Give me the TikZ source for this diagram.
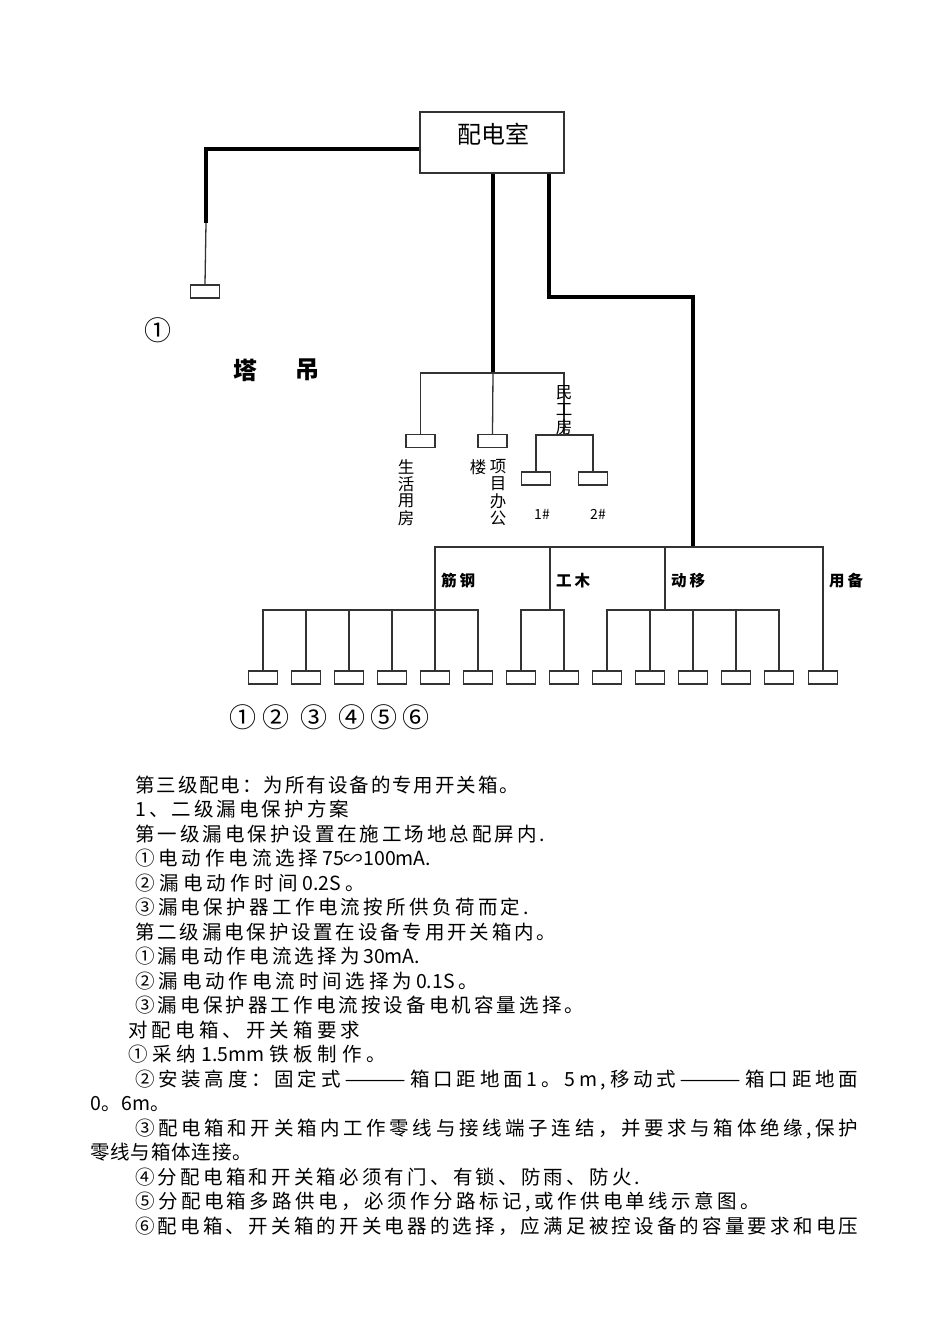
\documentclass[tikz,border=0pt]{standalone}
\usepackage{fontspec}
\setmainfont{Noto Sans CJK SC}
\def\sprA#1{#1\sprB}
\def\sprB#1{\ifx\relax#1\else\hskip 0pt plus 1fil\relax#1\expandafter\sprB\fi}
\newcommand\spreadline[2]{\makebox[#1][s]{\sprA#2\relax}}
\newcommand\longdash{\scalebox{1.9}[1]{——}}
\begin{document}
\begin{tikzpicture}[x=1pt,y=-1pt,
  thk/.style={line width=3.6pt,black},
  thn/.style={line width=1.3pt,black!80},
  sbox/.style={draw=black!80,line width=1.4pt,minimum width=29pt,minimum height=13pt,inner sep=0pt},
  lbl/.style={font=\fontsize{16.5}{16.5}\selectfont,inner sep=0pt},
  blbl/.style={font=\bfseries\fontsize{15.5}{15.5}\selectfont,inner sep=0pt,anchor=west},
  circ/.style={font=\fontsize{27}{27}\selectfont,inner sep=0pt},
  txt/.style={anchor=base west,font=\fontsize{19.5}{20}\selectfont,inner sep=0pt}]
\useasboundingbox[fill=white] (0,0) rectangle (950,1344);

% main distribution room
\node[draw=black!80,line width=1.3pt,minimum width=144pt,minimum height=61pt,inner sep=0pt] (room) at (492,142.5) {};
\node[font=\fontsize{24}{24}\selectfont,inner sep=0pt] (roomlbl) at (493,134) {配电室};

% tower crane branch
\coordinate (ta) at (206,223);
\node[sbox] (tc) at (205,291.5) {};
\draw[thk] ([yshift=-6.5pt]room.west) -| (ta);
\draw[thn] (ta) -- (tc.north);
\node[circ] (c0) at (158,330) {①};
\node[font=\bfseries\fontsize{24}{24}\selectfont,inner sep=0pt] (ta1) at (245,370) {塔};
\node[font=\bfseries\fontsize{24}{24}\selectfont,inner sep=0pt] (ta2) at (307,370) {吊};

% middle branch
\coordinate (m1) at (493,373);
\coordinate (mg) at (564,435);
\node[sbox] (b1) at (420.5,441) {};
\node[sbox] (b2) at (492.5,441) {};
\node[sbox] (b3) at (536,478.5) {};
\node[sbox] (b4) at (593,478.5) {};
\draw[thk] (room.south -| m1) -- (m1);
\draw[thn] (b1.north) |- (m1) -| (mg);
\draw[thn] (m1) -- (b2.north);
\draw[thn] (b3.north) |- (mg) -| (b4.north);
\node[lbl] (mg1) at (564,393) {民};
\node[lbl] (mg2) at (564,410) {工};
\node[lbl] (mg3) at (564,427) {房};
\node[lbl] (s1) at (406,467) {生};
\node[lbl] (s2) at (406,484) {活};
\node[lbl] (s3) at (406,501) {用};
\node[lbl] (s4) at (406,518) {房};
\node[lbl] (lou) at (478,467) {楼};
\node[lbl] (x1) at (498,467) {项};
\node[lbl] (x2) at (498,484) {目};
\node[lbl] (x3) at (498,501) {办};
\node[lbl] (x4) at (498,518) {公};
\node[font=\fontsize{14}{14}\selectfont,inner sep=0pt] (n1) at (542,514) {1\#};
\node[font=\fontsize{14}{14}\selectfont,inner sep=0pt] (n2) at (598,514) {2\#};

% right branch
\coordinate (r1) at (549,297);
\coordinate (r2) at (693,547);
\coordinate (g1) at (435,610);
\coordinate (g2) at (550,610);
\coordinate (g3) at (665,610);
\draw[thk] (room.south -| r1) -- (r1) -| (r2);
\foreach \i/\x in {1/263,2/306,3/349,4/392,5/435,6/478,7/521,8/564,9/607,10/650,11/693,12/736,13/779,14/823}
  \node[sbox] (bx\i) at (\x,677.5) {};
\draw[thn] (g1) |- (r2) -| (bx14.north);
\draw[thn] (g2) -- (g2 |- r2);
\draw[thn] (g3) -- (g3 |- r2);
\draw[thn] (bx1.north) |- (g1) -| (bx6.north);
\foreach \i in {2,3,4,5} \draw[thn] (bx\i.north) -- (bx\i.north |- g1);
\draw[thn] (bx7.north) |- (g2) -| (bx8.north);
\draw[thn] (bx9.north) |- (g3) -| (bx13.north);
\foreach \i in {10,11,12} \draw[thn] (bx\i.north) -- (bx\i.north |- g3);
\node[blbl] (gl1) at (441,581) {筋\hspace{3pt}钢};
\node[blbl] (gl2) at (556,581) {工\hspace{3pt}木};
\node[blbl] (gl3) at (671,581) {动\hspace{3pt}移};
\node[blbl] (gl4) at (829,581) {用\hspace{3pt}备};

\node[circ] (c1) at (243,717) {①};
\node[circ] (c2) at (276,717) {②};
\node[circ] (c3) at (314,717) {③};
\node[circ] (c4) at (352,717) {④};
\node[circ] (c5) at (384,717) {⑤};
\node[circ] (c6) at (416,717) {⑥};

% text block
\node[txt] (t0) at (135,792) {\spreadline{384pt}{第三级配电：为所有设备的专用开关箱。}};
\node[txt] (t1) at (135,816.5) {\spreadline{214pt}{1、二级漏电保护方案}};
\node[txt] (t2) at (135,841) {\spreadline{410pt}{第一级漏电保护设置在施工场地总配屏内.}};
\node[txt] (t3) at (135,865.5) {\spreadline{296pt}{①电动作电流选择{75∽100mA.}}};
\node[txt] (t4) at (135,890) {\spreadline{230pt}{②漏电动作时间{0.2S}。}};
\node[txt] (t5) at (135,914.5) {\spreadline{394pt}{③漏电保护器工作电流按所供负荷而定.}};
\node[txt] (t6) at (135,939) {\spreadline{421pt}{第二级漏电保护设置在设备专用开关箱内。}};
\node[txt] (t7) at (135,963.5) {\spreadline{285pt}{①漏电动作电流选择为{30mA.}}};
\node[txt] (t8) at (135,988) {\spreadline{343pt}{②漏电动作电流时间选择为{0.1S}。}};
\node[txt] (t9) at (135,1012.5) {\spreadline{449pt}{③漏电保护器工作电流按设备电机容量选择。}};
\node[txt] (t10) at (128,1037) {\spreadline{232pt}{对配电箱、开关箱要求}};
\node[txt] (t11) at (128,1061.5) {\spreadline{258pt}{①采纳{1.5mm}铁板制作。}};
\node[txt] (t12) at (135,1086) {\spreadline{723pt}{②安装高度：固定式\longdash 箱口距地面1。5m,移动式\longdash 箱口距地面}};
\node[txt] (t13) at (90,1110.5) {\spreadline{80pt}{0。6m。}};
\node[txt] (t14) at (135,1135) {\spreadline{723pt}{③配电箱和开关箱内工作零线与接线端子连结，并要求与箱体绝缘,保护}};
\node[txt] (t15) at (90,1159.5) {\spreadline{162pt}{零线与箱体连接。}};
\node[txt] (t16) at (135,1184) {\spreadline{505pt}{④分配电箱和开关箱必须有门、有锁、防雨、防火.}};
\node[txt] (t17) at (135,1208.5) {\spreadline{625pt}{⑤分配电箱多路供电，必须作分路标记,或作供电单线示意图。}};
\node[txt] (t18) at (135,1233) {\spreadline{723pt}{⑥配电箱、开关箱的开关电器的选择，应满足被控设备的容量要求和电压}};
\end{tikzpicture}
\end{document}
